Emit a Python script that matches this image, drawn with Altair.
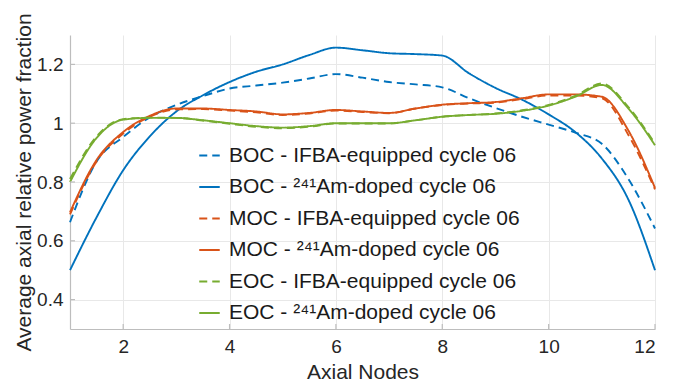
import altair as alt
import pandas as pd

# Axial node positions (sampled every half node)
nodes = [1.0, 1.5, 2.0, 2.5, 3.0, 3.5, 4.0, 4.5, 5.0, 5.5, 6.0, 6.5,
         7.0, 7.5, 8.0, 8.5, 9.0, 9.5, 10.0, 10.5, 11.0, 11.5, 12.0]

boc_ifba = [0.663, 0.870, 0.953, 1.020, 1.062, 1.092, 1.118, 1.128, 1.138, 1.152, 1.167, 1.155,
            1.140, 1.132, 1.122, 1.085, 1.052, 1.022, 0.995, 0.968, 0.930, 0.810, 0.642]
boc_am = [0.500, 0.680, 0.840, 0.955, 1.040, 1.095, 1.140, 1.175, 1.200, 1.232, 1.257, 1.248,
          1.238, 1.235, 1.230, 1.170, 1.120, 1.080, 1.030, 0.970, 0.880, 0.740, 0.500]
moc_ifba = [0.690, 0.870, 0.965, 1.022, 1.047, 1.048, 1.043, 1.037, 1.028, 1.033, 1.043, 1.038,
            1.034, 1.050, 1.062, 1.067, 1.070, 1.082, 1.094, 1.094, 1.085, 0.960, 0.775]
moc_am = [0.697, 0.875, 0.970, 1.025, 1.050, 1.050, 1.045, 1.040, 1.030, 1.035, 1.045, 1.040,
          1.035, 1.050, 1.063, 1.068, 1.072, 1.085, 1.098, 1.098, 1.090, 0.975, 0.780]
eoc_ifba = [0.810, 0.955, 1.014, 1.019, 1.018, 1.009, 0.998, 0.988, 0.983, 0.988, 0.999, 0.999,
            0.999, 1.010, 1.022, 1.028, 1.033, 1.044, 1.062, 1.093, 1.135, 1.055, 0.930]
eoc_am = [0.800, 0.950, 1.012, 1.018, 1.018, 1.010, 1.000, 0.990, 0.985, 0.990, 1.000, 1.000,
          1.000, 1.010, 1.022, 1.028, 1.032, 1.042, 1.060, 1.090, 1.130, 1.050, 0.925]

series_names = [
    "BOC - IFBA-equipped cycle 06",
    "BOC - \u00b2\u2074\u00b9Am-doped cycle 06",
    "MOC - IFBA-equipped cycle 06",
    "MOC - \u00b2\u2074\u00b9Am-doped cycle 06",
    "EOC - IFBA-equipped cycle 06",
    "EOC - \u00b2\u2074\u00b9Am-doped cycle 06",
]
series_values = [boc_ifba, boc_am, moc_ifba, moc_am, eoc_ifba, eoc_am]
series_colors = ["#0072BD", "#0072BD", "#D95319", "#D95319", "#77AC30", "#77AC30"]
series_dashes = [[8, 5], [1, 0], [8, 5], [1, 0], [8, 5], [1, 0]]

x_ticks = [2, 4, 6, 8, 10, 12]
y_ticks = [0.4, 0.6, 0.8, 1.0, 1.2]

rows = []
for name, vals in zip(series_names, series_values):
    for xv, yv in zip(nodes, vals):
        rows.append({"node": xv, "value": yv, "series": name})
df = pd.DataFrame(rows)

FONT = "Liberation Sans"
XTITLE = "Axial Nodes"
YTITLE = "Average axial relative power fraction"
xscale = alt.Scale(domain=[1, 12], nice=False, zero=False)
yscale = alt.Scale(domain=[0.3, 1.3], nice=False, zero=False)

axis_common = dict(
    grid=True, gridColor="#e8e8e8", gridWidth=1,
    domainColor="#bdbdbd", domainWidth=1.2,
    tickSize=0, labelFontSize=19, labelColor="#262626", labelFont=FONT,
    titleFontSize=21, titleColor="#262626", titleFont=FONT, titleFontWeight="normal",
)
x_axis = alt.Axis(values=x_ticks, labelPadding=8, titlePadding=5, **axis_common)
y_axis = alt.Axis(values=y_ticks, format="~g", labelPadding=7, titlePadding=2, **axis_common)

legend_kw = dict(title=None, orient="none", legendX=128, legendY=109,
                 symbolType="stroke", symbolSize=420, symbolStrokeWidth=2,
                 labelFontSize=21, labelFont=FONT, labelColor="#1a1a1a",
                 labelOffset=8, rowPadding=9.5, labelLimit=450)

lines = alt.Chart(df).mark_line(interpolate="monotone", strokeWidth=1.9).encode(
    x=alt.X("node:Q", scale=xscale, title=XTITLE, axis=x_axis),
    y=alt.Y("value:Q", scale=yscale, title=YTITLE, axis=y_axis),
    color=alt.Color("series:N", sort=series_names,
                    scale=alt.Scale(domain=series_names, range=series_colors),
                    legend=alt.Legend(**legend_kw)),
    strokeDash=alt.StrokeDash("series:N", sort=series_names,
                              scale=alt.Scale(domain=series_names, range=series_dashes),
                              legend=alt.Legend(**legend_kw)),
)

xt = pd.DataFrame({"t": x_ticks})
yt = pd.DataFrame({"t": y_ticks})

# inward tick marks
x_tick_marks = alt.Chart(xt).mark_rule(color="#bdbdbd", strokeWidth=1.2).encode(
    x=alt.X("t:Q", scale=xscale, title=XTITLE, axis=x_axis),
    y=alt.value(294), y2=alt.value(289),
)
y_tick_marks = alt.Chart(yt).mark_rule(color="#bdbdbd", strokeWidth=1.2).encode(
    y=alt.Y("t:Q", scale=yscale, title=YTITLE, axis=y_axis),
    x=alt.value(0), x2=alt.value(5),
)

chart = alt.layer(lines, x_tick_marks, y_tick_marks).properties(
    width=585, height=294,
    autosize="none",
    padding={"left": 70, "top": 35, "right": 25, "bottom": 57},
    background="white",
).configure_view(stroke="transparent")

chart.save("out.html", embed_options={"renderer": "svg", "actions": False})
